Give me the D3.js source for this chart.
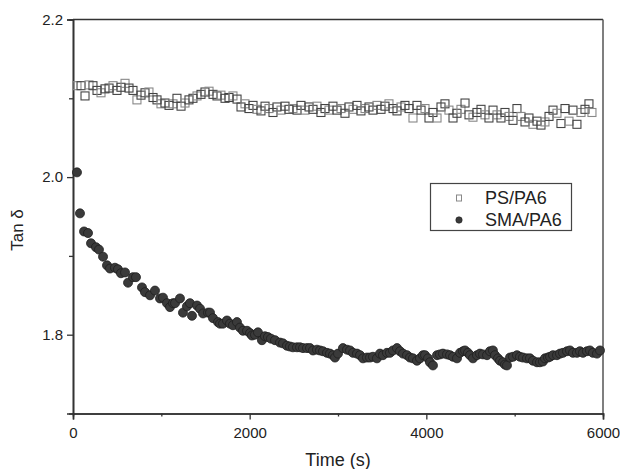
<!DOCTYPE html>
<html><head><meta charset="utf-8">
<script src="https://cdn.jsdelivr.net/npm/d3@7"></script>
<style>body{margin:0;background:#fff}svg{display:block}text{font-family:"Liberation Sans",Arial,sans-serif;fill:#222}</style>
</head><body><svg id="c" width="620" height="469"></svg>
<script>
// PS/PA6 (open squares)
const psTime = [45,91,136,181,226,272,317,362,408,453,498,543,589,634,679,724,770,815,860,906,951,996,1041,1087,1132,1177,1223,1268,1313,1358,1404,1449,1494,1540,1585,1630,1675,1721,1766,1811,1857,1902,1947,1992,2038,2083,2128,2174,2219,2264,2309,2355,2400,2445,2490,2536,2581,2626,2672,2717,2762,2807,2853,2898,2943,2989,3034,3079,3124,3170,3215,3260,3306,3351,3396,3441,3487,3532,3577,3623,3668,3713,3758,3804,3849,3894,3940,3985,4030,4075,4121,4166,4211,4256,4302,4347,4392,4438,4483,4528,4573,4619,4664,4709,4755,4800,4845,4890,4936,4981,5026,5072,5117,5162,5207,5253,5298,5343,5389,5434,5479,5524,5570,5615,5660,5705,5751,5796,5841,5875];
const psTan = [2.116,2.116,2.103,2.117,2.116,2.110,2.107,2.112,2.113,2.116,2.110,2.114,2.119,2.113,2.110,2.098,2.104,2.107,2.108,2.101,2.098,2.093,2.094,2.091,2.093,2.100,2.090,2.094,2.098,2.100,2.103,2.105,2.108,2.109,2.105,2.103,2.104,2.100,2.101,2.103,2.099,2.089,2.093,2.087,2.091,2.086,2.084,2.090,2.087,2.082,2.089,2.085,2.090,2.086,2.087,2.085,2.091,2.085,2.089,2.086,2.090,2.082,2.087,2.085,2.090,2.085,2.087,2.081,2.089,2.086,2.091,2.084,2.087,2.089,2.085,2.091,2.086,2.090,2.093,2.087,2.084,2.089,2.091,2.087,2.075,2.091,2.085,2.087,2.075,2.082,2.075,2.089,2.093,2.085,2.075,2.081,2.086,2.094,2.079,2.076,2.082,2.086,2.079,2.075,2.085,2.079,2.075,2.082,2.077,2.072,2.087,2.077,2.070,2.075,2.067,2.071,2.066,2.070,2.077,2.085,2.081,2.068,2.087,2.071,2.085,2.067,2.082,2.086,2.093,2.082];
// SMA/PA6 (filled circles)
const smaTime = [45,79,125,170,204,260,294,340,385,419,475,509,543,589,623,679,713,781,815,872,928,985,1019,1064,1098,1132,1155,1211,1245,1290,1324,1347,1404,1438,1472,1528,1551,1585,1641,1664,1698,1743,1777,1811,1856,1890,1924,1970,2004,2026,2060,2094,2139,2173,2207,2241,2287,2343,2377,2422,2456,2490,2536,2570,2604,2649,2683,2717,2762,2796,2830,2875,2909,2943,2966,3000,3056,3102,3136,3170,3215,3249,3283,3328,3362,3396,3441,3475,3509,3554,3588,3622,3668,3702,3736,3781,3815,3849,3894,3928,3962,3985,4019,4041,4075,4121,4154,4188,4234,4268,4302,4347,4381,4415,4438,4471,4494,4528,4573,4607,4641,4687,4720,4754,4777,4811,4834,4868,4890,4913,4947,4981,5026,5060,5094,5139,5173,5207,5253,5286,5320,5343,5377,5400,5434,5479,5513,5547,5592,5626,5660,5705,5739,5773,5818,5852,5886,5932,5966];
const smaTan = [2.006,1.954,1.931,1.929,1.916,1.911,1.908,1.899,1.888,1.884,1.885,1.883,1.878,1.879,1.866,1.873,1.873,1.860,1.854,1.850,1.856,1.846,1.847,1.840,1.835,1.840,1.840,1.846,1.828,1.836,1.840,1.824,1.837,1.833,1.827,1.828,1.828,1.821,1.816,1.814,1.814,1.818,1.814,1.812,1.816,1.809,1.805,1.805,1.802,1.799,1.800,1.803,1.793,1.798,1.797,1.795,1.793,1.790,1.789,1.786,1.785,1.784,1.784,1.784,1.783,1.783,1.783,1.780,1.781,1.780,1.779,1.777,1.776,1.774,1.771,1.776,1.783,1.781,1.780,1.777,1.776,1.774,1.770,1.771,1.771,1.772,1.770,1.776,1.774,1.777,1.777,1.780,1.783,1.779,1.776,1.774,1.771,1.770,1.767,1.770,1.774,1.774,1.770,1.765,1.761,1.774,1.775,1.776,1.775,1.774,1.772,1.770,1.777,1.779,1.780,1.777,1.774,1.770,1.774,1.776,1.775,1.774,1.779,1.780,1.774,1.770,1.767,1.765,1.762,1.761,1.771,1.772,1.774,1.772,1.771,1.770,1.770,1.767,1.765,1.765,1.766,1.770,1.771,1.772,1.774,1.774,1.776,1.777,1.779,1.780,1.777,1.777,1.779,1.777,1.779,1.780,1.777,1.776,1.780];
const xMajor = [0,2000,4000,6000];
const xMinor = [1000,3000,5000];
const yMajor = [1.8,2.0,2.2];
const yMinor = [1.9,2.1];
const seriesNames = ["PS/PA6","SMA/PA6"];

const svg = d3.select("#c");
const x = d3.scaleLinear().domain([0,6000]).range([73,603]);
const y = d3.scaleLinear().domain([1.7,2.2]).range([413.5,19.5]);

// frame top/right
svg.append("line").attr("x1",73).attr("x2",603).attr("y1",y(2.2)).attr("y2",y(2.2)).attr("stroke","#333").attr("stroke-width",1.5);
svg.append("line").attr("x1",603).attr("x2",603).attr("y1",y(2.2)).attr("y2",y(1.7)).attr("stroke","#555").attr("stroke-width",1.5);

// axes
svg.append("g").attr("transform",`translate(0,${y(1.7)})`)
  .call(d3.axisBottom(x).tickValues(xMajor).tickFormat(d3.format("d")).tickSize(6).tickPadding(8));
svg.append("g").attr("transform",`translate(0,${y(1.7)})`)
  .call(d3.axisBottom(x).tickValues(xMinor).tickFormat("").tickSize(3));
svg.append("g").attr("transform",`translate(73,0)`)
  .call(d3.axisLeft(y).tickValues(yMajor).tickFormat(d3.format(".1f")).tickSize(6).tickPadding(4));
svg.append("g").attr("transform",`translate(73,0)`)
  .call(d3.axisLeft(y).tickValues(yMinor).tickFormat("").tickSize(4));
svg.selectAll(".domain").attr("stroke","#333").attr("stroke-width",1.6);
svg.selectAll(".tick line").attr("stroke","#333").attr("stroke-width",1.3);
svg.selectAll(".tick text").attr("font-size",15).attr("font-family","Liberation Sans, Arial, sans-serif").attr("fill","#222");

// axis titles
svg.append("text").attr("x",338).attr("y",466).attr("text-anchor","middle").attr("font-size",18).text("Time (s)");
svg.append("text").attr("transform","translate(23,230) rotate(-90)").attr("text-anchor","middle").attr("font-size",17).text("Tan δ");

// PS squares
const s = 8;
svg.append("g").selectAll("rect").data(psTime.map((t,i)=>[t,psTan[i]])).join("rect")
  .attr("x",d=>x(d[0])-s/2).attr("y",d=>y(d[1])-s/2).attr("width",s).attr("height",s)
  .attr("fill","none").attr("stroke",(d,i)=>i%3===0?"#888":"#444").attr("stroke-width",1.1);

// SMA circles
svg.append("g").selectAll("circle").data(smaTime.map((t,i)=>[t,smaTan[i]])).join("circle")
  .attr("cx",d=>x(d[0])).attr("cy",d=>y(d[1])).attr("r",4.5)
  .attr("fill","#3a3a3a").attr("stroke","#1e1e1e").attr("stroke-width",0.8);

// legend
const lg = svg.append("g");
lg.append("rect").attr("x",430.5).attr("y",183.5).attr("width",141).attr("height",47).attr("fill","#fff").attr("stroke","#444").attr("stroke-width",1.2);
lg.append("rect").attr("x",456.5).attr("y",195).attr("width",5).attr("height",6).attr("fill","none").attr("stroke","#888").attr("stroke-width",1);
lg.append("circle").attr("cx",459).attr("cy",220).attr("r",3.2).attr("fill","#3a3a3a").attr("stroke","#1e1e1e").attr("stroke-width",0.6);
lg.append("text").attr("x",485).attr("y",204).attr("font-size",18).text(seriesNames[0]);
lg.append("text").attr("x",485).attr("y",226).attr("font-size",18).text(seriesNames[1]);
</script></body></html>
